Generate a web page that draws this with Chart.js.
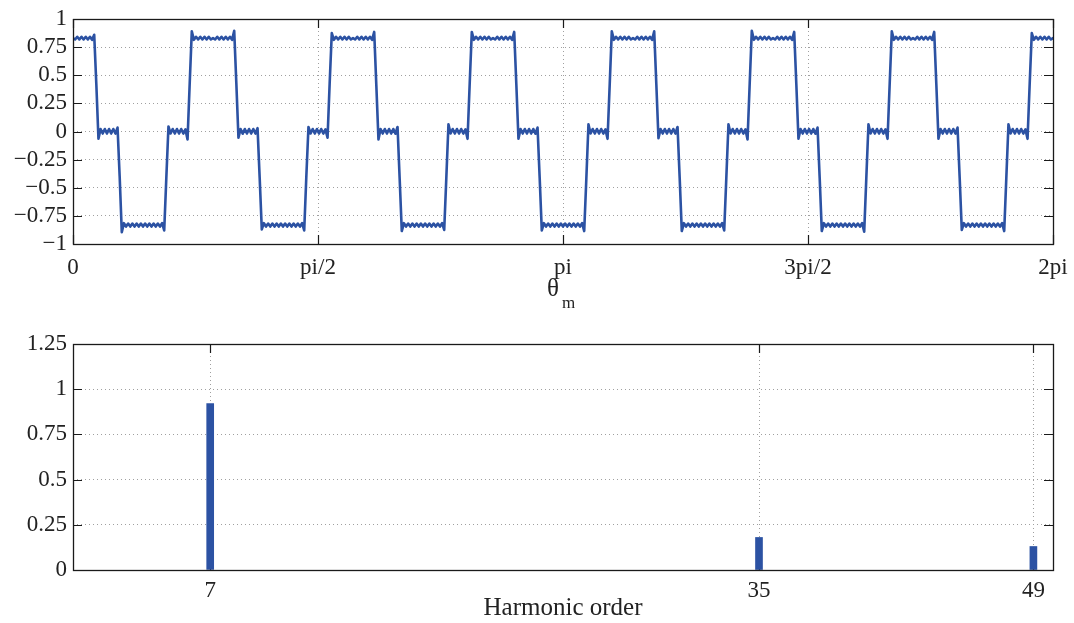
<!DOCTYPE html>
<html>
<head>
<meta charset="utf-8">
<script src="https://cdn.jsdelivr.net/npm/chart.js@4.4.1/dist/chart.umd.min.js"></script>
<style>
  html, body { margin: 0; padding: 0; background: #ffffff; }
  #wrap { position: relative; width: 1074px; height: 623px; }
  canvas { position: absolute; left: 0; }
  #c1 { top: 0; }
  #c2 { top: 320px; }
</style>
</head>
<body>
<div id="wrap">
  <canvas id="c1" width="1074" height="320"></canvas>
  <canvas id="c2" width="1074" height="303"></canvas>
</div>
<script>
// ---------------- DATA ----------------
// Top plot: waveform samples, uniformly spaced over theta_m = 0 .. 2pi
const waveP0 = [0.83,0.818,0.842,0.818,0.842,0.818,0.842,0.818,0.842,0.815,0.86,
  0.42,-0.065,0.022,-0.018,0.022,-0.018,0.022,-0.018,0.022,-0.018,0.035,
  -0.40,-0.895,-0.815,-0.845,-0.818,-0.845,-0.818,-0.845,-0.818,-0.845,-0.818,-0.845,-0.818,-0.845,-0.818,-0.845,-0.818,-0.845,-0.818,-0.845,-0.815,-0.88,
  -0.41,0.045,-0.018,0.022,-0.018,0.022,-0.018,0.022,-0.018,0.018,-0.07,
  0.42,0.89,0.815,0.842,0.818,0.842,0.818,0.842,0.818,0.842,0.818];
const waveP1 = [0.83,0.818,0.842,0.818,0.842,0.818,0.842,0.818,0.842,0.815,0.895,
  0.43,-0.055,0.022,-0.02,0.022,-0.018,0.022,-0.018,0.022,-0.018,0.03,
  -0.41,-0.87,-0.815,-0.845,-0.818,-0.845,-0.818,-0.845,-0.818,-0.845,-0.818,-0.845,-0.818,-0.845,-0.818,-0.845,-0.818,-0.845,-0.818,-0.845,-0.815,-0.88,
  -0.40,0.04,-0.018,0.022,-0.018,0.022,-0.018,0.022,-0.018,0.018,-0.055,
  0.43,0.875,0.815,0.842,0.818,0.842,0.818,0.842,0.818,0.842,0.818];
const waveP2 = [0.83,0.818,0.842,0.818,0.842,0.818,0.842,0.818,0.842,0.815,0.885,
  0.41,-0.07,0.022,-0.018,0.022,-0.018,0.022,-0.018,0.022,-0.02,0.04,
  -0.42,-0.885,-0.815,-0.845,-0.818,-0.845,-0.818,-0.845,-0.818,-0.845,-0.818,-0.845,-0.818,-0.845,-0.818,-0.845,-0.818,-0.845,-0.818,-0.845,-0.815,-0.875,
  -0.41,0.065,-0.018,0.022,-0.018,0.022,-0.018,0.022,-0.018,0.018,-0.065,
  0.42,0.885,0.815,0.842,0.818,0.842,0.818,0.842,0.818,0.842,0.818];
const waveP3 = [0.83,0.818,0.842,0.818,0.842,0.818,0.842,0.818,0.842,0.815,0.885,
  0.42,-0.065,0.022,-0.018,0.022,-0.018,0.022,-0.018,0.022,-0.02,0.035,
  -0.41,-0.88,-0.815,-0.845,-0.818,-0.845,-0.818,-0.845,-0.818,-0.845,-0.818,-0.845,-0.818,-0.845,-0.818,-0.845,-0.818,-0.845,-0.818,-0.845,-0.815,-0.885,
  -0.42,0.065,-0.018,0.022,-0.018,0.022,-0.018,0.022,-0.018,0.018,-0.065,
  0.41,0.89,0.815,0.842,0.818,0.842,0.818,0.842,0.818,0.842,0.818];
const waveP4 = [0.83,0.818,0.842,0.818,0.842,0.818,0.842,0.818,0.842,0.815,0.89,
  0.42,-0.06,0.022,-0.018,0.022,-0.018,0.022,-0.018,0.022,-0.018,0.04,
  -0.41,-0.885,-0.815,-0.845,-0.818,-0.845,-0.818,-0.845,-0.818,-0.845,-0.818,-0.845,-0.818,-0.845,-0.818,-0.845,-0.818,-0.845,-0.818,-0.845,-0.815,-0.88,
  -0.41,0.065,-0.018,0.022,-0.018,0.022,-0.018,0.022,-0.018,0.018,-0.07,
  0.42,0.895,0.815,0.842,0.818,0.842,0.818,0.842,0.818,0.842,0.818];
const waveP5 = [0.83,0.818,0.842,0.818,0.842,0.818,0.842,0.818,0.842,0.815,0.885,
  0.42,-0.065,0.022,-0.018,0.022,-0.018,0.022,-0.018,0.022,-0.02,0.035,
  -0.41,-0.885,-0.815,-0.845,-0.818,-0.845,-0.818,-0.845,-0.818,-0.845,-0.818,-0.845,-0.818,-0.845,-0.818,-0.845,-0.818,-0.845,-0.818,-0.845,-0.815,-0.89,
  -0.41,0.065,-0.018,0.022,-0.018,0.022,-0.018,0.022,-0.018,0.018,-0.065,
  0.42,0.89,0.815,0.842,0.818,0.842,0.818,0.842,0.818,0.842,0.818];
const waveP6 = [0.83,0.818,0.842,0.818,0.842,0.818,0.842,0.818,0.842,0.815,0.885,
  0.42,-0.065,0.022,-0.018,0.022,-0.018,0.022,-0.018,0.022,-0.018,0.035,
  -0.41,-0.875,-0.815,-0.845,-0.818,-0.845,-0.818,-0.845,-0.818,-0.845,-0.818,-0.845,-0.818,-0.845,-0.818,-0.845,-0.818,-0.845,-0.818,-0.845,-0.815,-0.885,
  -0.41,0.065,-0.018,0.022,-0.018,0.022,-0.018,0.022,-0.018,0.018,-0.065,
  0.42,0.875,0.815,0.842,0.818,0.842,0.818,0.842,0.818,0.842,0.818];
const waveEnd = [0.83];

const topXTickValues = [0, Math.PI / 2, Math.PI, 3 * Math.PI / 2, 2 * Math.PI];
const topXTickLabels = ['0', 'pi/2', 'pi', '3pi/2', '2pi'];
const topYTickValues = [-1, -0.75, -0.5, -0.25, 0, 0.25, 0.5, 0.75, 1];
const topYTickLabels = ['\u22121', '\u22120.75', '\u22120.5', '\u22120.25', '0', '0.25', '0.5', '0.75', '1'];

// Bottom plot: harmonic spectrum
const harmonicOrders = [7, 35, 49];
const harmonicAmps = [0.92, 0.18, 0.13];
const botXTickValues = [7, 35, 49];
const botXTickLabels = ['7', '35', '49'];
const botYTickValues = [0, 0.25, 0.5, 0.75, 1, 1.25];
const botYTickLabels = ['0', '0.25', '0.5', '0.75', '1', '1.25'];

// ---------------- STYLE ----------------
const BLUE = '#2c52a3';
const TEXT = '#222222';
const GRID = '#a0a0a0';
const FONT = "'Liberation Serif', 'Times New Roman', serif";
const tickFont = { family: FONT, size: 23 };

const waveY = [].concat(waveP0, waveP1, waveP2, waveP3, waveP4, waveP5, waveP6, waveEnd);
const wavePoints = waveY.map((v, i) => ({ x: i * 2 * Math.PI / (waveY.length - 1), y: v }));

const framePlugin = {
  id: 'matlabFrame',
  beforeDatasetsDraw(chart) {
    const { ctx, chartArea: a, scales } = chart;
    const L = 9;
    ctx.save();
    ctx.strokeStyle = '#1a1a1a';
    ctx.lineWidth = 1.2;
    ctx.beginPath();
    scales.y.ticks.forEach(t => {
      const y = Math.round(scales.y.getPixelForValue(t.value)) + 0.5;
      ctx.moveTo(a.left, y); ctx.lineTo(a.left + L, y);
      ctx.moveTo(a.right, y); ctx.lineTo(a.right - L, y);
    });
    scales.x.ticks.forEach(t => {
      const x = Math.round(scales.x.getPixelForValue(t.value)) + 0.5;
      ctx.moveTo(x, a.bottom); ctx.lineTo(x, a.bottom - L);
      ctx.moveTo(x, a.top); ctx.lineTo(x, a.top + L);
    });
    ctx.stroke();
    ctx.restore();
  },
  afterDraw(chart) {
    const { ctx, chartArea: a } = chart;
    ctx.save();
    ctx.strokeStyle = '#1a1a1a';
    ctx.lineWidth = 1.3;
    ctx.strokeRect(Math.round(a.left) + 0.5, Math.round(a.top) + 0.5,
      Math.round(a.right - a.left), Math.round(a.bottom - a.top));
    ctx.restore();
  }
};

const thetaTitlePlugin = {
  id: 'thetaTitle',
  afterDraw(chart) {
    const { ctx } = chart;
    ctx.save();
    ctx.fillStyle = TEXT;
    ctx.textAlign = 'left';
    ctx.textBaseline = 'alphabetic';
    ctx.font = '25px ' + FONT;
    ctx.fillText('\u03B8', 547, 296);
    ctx.font = '17px ' + FONT;
    ctx.fillText('m', 562, 308);
    ctx.restore();
  }
};

function makeScale(tickValues, tickLabels, extra, padding, size) {
  const s = Object.assign({
    type: 'linear',
    afterBuildTicks: sc => { sc.ticks = tickValues.map(v => ({ value: v })); },
    ticks: {
      autoSkip: false, maxRotation: 0, minRotation: 0,
      color: TEXT, font: tickFont, padding: padding,
      callback: (v, i) => tickLabels[i]
    },
    grid: { color: GRID, lineWidth: 1, drawTicks: false, offset: false },
    border: { display: false, dash: [1, 3] },
    afterFit: sc => {
      if (sc.isHorizontal()) { sc.height = size; } else { sc.width = size; }
      sc.paddingLeft = 0; sc.paddingRight = 0; sc.paddingTop = 0; sc.paddingBottom = 0;
    }
  }, extra);
  return s;
}

new Chart(document.getElementById('c1'), {
  type: 'line',
  data: {
    datasets: [{
      data: wavePoints,
      borderColor: BLUE,
      borderWidth: 2.6,
      borderJoinStyle: 'round',
      borderCapStyle: 'round',
      pointRadius: 0,
      tension: 0,
      fill: false
    }]
  },
  options: {
    responsive: false,
    animation: false,
    events: [],
    layout: { padding: { top: 19, right: 21, left: 0, bottom: 0 } },
    plugins: { legend: { display: false }, tooltip: { enabled: false } },
    scales: {
      x: makeScale(topXTickValues, topXTickLabels, { min: 0, max: 2 * Math.PI }, 10, 76),
      y: makeScale(topYTickValues, topYTickLabels, { min: -1, max: 1 }, 6, 73)
    }
  },
  plugins: [framePlugin, thetaTitlePlugin]
});

new Chart(document.getElementById('c2'), {
  type: 'bar',
  data: {
    datasets: [{
      data: harmonicOrders.map((h, i) => ({ x: h, y: harmonicAmps[i] })),
      backgroundColor: BLUE,
      borderWidth: 0,
      barThickness: 7
    }]
  },
  options: {
    responsive: false,
    animation: false,
    events: [],
    layout: { padding: { top: 24, right: 21, left: 0, bottom: 0 } },
    plugins: { legend: { display: false }, tooltip: { enabled: false } },
    scales: {
      x: makeScale(botXTickValues, botXTickLabels, {
        min: 0, max: 50, offset: false,
        title: { display: true, text: 'Harmonic order', color: TEXT, font: { family: FONT, size: 25 }, padding: { top: 0, bottom: 0 } }
      }, 7, 53),
      y: makeScale(botYTickValues, botYTickLabels, { min: 0, max: 1.25 }, 6, 73)
    }
  },
  plugins: [framePlugin]
});
</script>
</body>
</html>
